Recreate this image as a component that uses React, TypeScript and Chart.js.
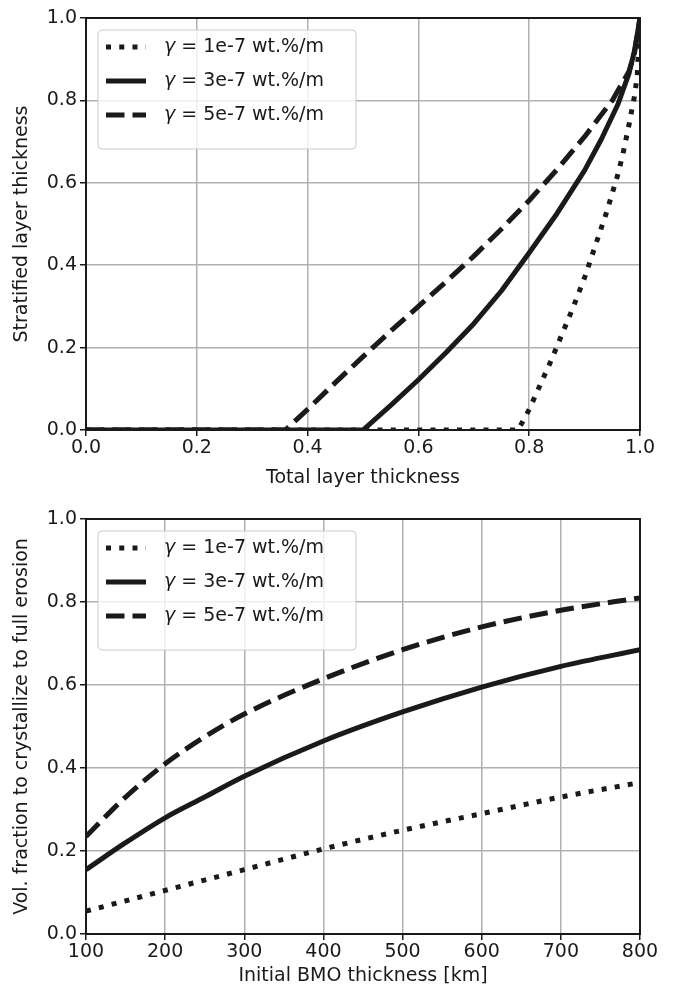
import React, { useEffect, useRef } from "react";
import { Chart, registerables } from "chart.js";
Chart.register(...registerables);

// ---------- Top chart data ----------
const topDottedX = [0, 0.78, 0.8, 0.82, 0.84, 0.86, 0.88, 0.9, 0.92, 0.94, 0.96, 0.97, 0.98, 0.99, 0.995, 1.0];
const topDottedY = [0, 0, 0.05, 0.11, 0.17, 0.235, 0.3, 0.37, 0.45, 0.53, 0.62, 0.675, 0.74, 0.81, 0.86, 1.0];
const topSolidX = [0, 0.5, 0.55, 0.6, 0.65, 0.7, 0.75, 0.8, 0.85, 0.9, 0.93, 0.96, 0.98, 0.99, 1.0];
const topSolidY = [0, 0, 0.06, 0.122, 0.188, 0.258, 0.338, 0.43, 0.525, 0.63, 0.705, 0.79, 0.865, 0.92, 1.0];
const topDashedX = [0, 0.36, 0.4, 0.45, 0.5, 0.55, 0.6, 0.65, 0.7, 0.75, 0.8, 0.85, 0.9, 0.95, 0.98, 0.99, 1.0];
const topDashedY = [0, 0, 0.05, 0.115, 0.178, 0.24, 0.3, 0.36, 0.422, 0.488, 0.557, 0.632, 0.712, 0.8, 0.87, 0.915, 1.0];

// ---------- Bottom chart data ----------
const bmoThickness = [100, 150, 200, 250, 300, 400, 500, 600, 700, 800];
const botDotted = [0.055, 0.08, 0.105, 0.13, 0.155, 0.205, 0.25, 0.29, 0.33, 0.365];
const botSolid = [0.155, 0.22, 0.28, 0.33, 0.38, 0.465, 0.535, 0.595, 0.645, 0.685];
const botDashed = [0.235, 0.33, 0.41, 0.475, 0.53, 0.615, 0.685, 0.74, 0.78, 0.81];

const seriesLabels = ["γ = 1e-7 wt.%/m", "γ = 3e-7 wt.%/m", "γ = 5e-7 wt.%/m"];

const INK = "#1a1a1a";
const FONT = '"DejaVu Sans"';
const FS = 19;
const LW = 5;
const DOTTED = [5, 8.25];
const DASHED = [18.5, 8];

const framePlugin = {
  id: "frameAndLegend",
  afterDraw(chart: any) {
    const { ctx, chartArea: a } = chart;
    ctx.save();
    ctx.strokeStyle = INK;
    ctx.lineWidth = 2;
    ctx.setLineDash([]);
    ctx.strokeRect(a.left, a.top, a.right - a.left, a.bottom - a.top);

    const bx = a.left + 12;
    const by = a.top + 12;
    const bw = 258;
    const bh = 119;
    ctx.beginPath();
    if (ctx.roundRect) ctx.roundRect(bx, by, bw, bh, 4);
    else ctx.rect(bx, by, bw, bh);
    ctx.fillStyle = "rgba(255,255,255,0.8)";
    ctx.fill();
    ctx.strokeStyle = "#cccccc";
    ctx.lineWidth = 1;
    ctx.stroke();

    chart.data.datasets.forEach((ds: any, i: number) => {
      const y = a.top + 29 + i * 34;
      ctx.beginPath();
      ctx.setLineDash(ds.borderDash || []);
      ctx.lineWidth = LW;
      ctx.lineCap = "butt";
      ctx.strokeStyle = INK;
      ctx.moveTo(bx + 8, y);
      ctx.lineTo(bx + 48, y);
      ctx.stroke();
      ctx.setLineDash([]);
      const label: string = ds.label;
      const tx = bx + 66;
      ctx.fillStyle = INK;
      ctx.textBaseline = "middle";
      ctx.textAlign = "left";
      ctx.font = `italic ${FS}px ${FONT}`;
      const g = label.charAt(0);
      ctx.fillText(g, tx, y);
      const w = ctx.measureText(g).width;
      ctx.font = `${FS}px ${FONT}`;
      ctx.fillText(label.slice(1), tx + w, y);
    });
    ctx.restore();
  },
};

function makeDataset(label: string, xs: number[], ys: number[], dash: number[], smooth: boolean) {
  return {
    label,
    data: xs.map((x, i) => ({ x, y: ys[i] })),
    borderColor: INK,
    backgroundColor: INK,
    borderWidth: LW,
    borderDash: dash,
    borderCapStyle: "butt" as const,
    borderJoinStyle: "round" as const,
    pointRadius: 0,
    fill: false,
    tension: 0,
    cubicInterpolationMode: smooth ? ("monotone" as const) : ("default" as const),
  };
}

function makeOptions(opts: {
  xmin: number; xmax: number; xstep: number; xfmt: (v: number) => string;
  xtitle: string; ytitle: string; padTop: number; xHeight: number; xTitlePad: number;
}) {
  const grid = {
    color: "#b0b0b0",
    lineWidth: 1.5,
    tickColor: INK,
    tickLength: 6,
    tickWidth: 1.5,
    drawTicks: true,
  };
  return {
    responsive: false,
    animation: false as const,
    layout: { padding: { top: opts.padTop, right: 33, left: 0, bottom: 0 } },
    plugins: { legend: { display: false }, tooltip: { enabled: false } },
    scales: {
      x: {
        type: "linear" as const,
        min: opts.xmin,
        max: opts.xmax,
        grid,
        border: { color: INK, width: 2 },
        ticks: {
          stepSize: opts.xstep,
          color: INK,
          font: { family: FONT, size: FS },
          padding: 1,
          maxRotation: 0,
          callback: (v: any) => opts.xfmt(Number(v)),
        },
        title: {
          display: true,
          text: opts.xtitle,
          color: INK,
          font: { family: FONT, size: FS },
          padding: { top: 0, bottom: opts.xTitlePad },
        },
        afterFit: (s: any) => { s.height = opts.xHeight; },
      },
      y: {
        type: "linear" as const,
        min: 0,
        max: 1,
        grid,
        border: { color: INK, width: 2 },
        ticks: {
          stepSize: 0.2,
          color: INK,
          font: { family: FONT, size: FS },
          padding: 3,
          callback: (v: any) => Number(v).toFixed(1),
        },
        title: {
          display: true,
          text: opts.ytitle,
          color: INK,
          font: { family: FONT, size: FS },
          padding: { top: 11, bottom: 0 },
        },
        afterFit: (s: any) => { s.width = 86; },
      },
    },
  };
}

export default function App() {
  const topRef = useRef<HTMLCanvasElement | null>(null);
  const botRef = useRef<HTMLCanvasElement | null>(null);

  useEffect(() => {
    const top = new Chart(topRef.current as HTMLCanvasElement, {
      type: "line",
      data: {
        datasets: [
          makeDataset(seriesLabels[0], topDottedX, topDottedY, DOTTED, false),
          makeDataset(seriesLabels[1], topSolidX, topSolidY, [], false),
          makeDataset(seriesLabels[2], topDashedX, topDashedY, DASHED, false),
        ],
      },
      options: makeOptions({
        xmin: 0, xmax: 1, xstep: 0.2, xfmt: (v) => v.toFixed(1),
        xtitle: "Total layer thickness", ytitle: "Stratified layer thickness",
        padTop: 18, xHeight: 66, xTitlePad: 7,
      }) as any,
      plugins: [framePlugin],
    });
    const bot = new Chart(botRef.current as HTMLCanvasElement, {
      type: "line",
      data: {
        datasets: [
          makeDataset(seriesLabels[0], bmoThickness, botDotted, DOTTED, true),
          makeDataset(seriesLabels[1], bmoThickness, botSolid, [], true),
          makeDataset(seriesLabels[2], bmoThickness, botDashed, DASHED, true),
        ],
      },
      options: makeOptions({
        xmin: 100, xmax: 800, xstep: 100, xfmt: (v) => String(Math.round(v)),
        xtitle: "Initial BMO thickness [km]", ytitle: "Vol. fraction to crystallize to full erosion",
        padTop: 23, xHeight: 58, xTitlePad: 5,
      }) as any,
      plugins: [framePlugin],
    });
    return () => {
      top.destroy();
      bot.destroy();
    };
  }, []);

  return (
    <div style={{ position: "absolute", left: 0, top: 0, width: 673, height: 992, background: "#fff" }}>
      <canvas ref={topRef} width={673} height={496} style={{ display: "block", width: 673, height: 496 }} />
      <canvas ref={botRef} width={673} height={496} style={{ display: "block", width: 673, height: 496 }} />
    </div>
  );
}
